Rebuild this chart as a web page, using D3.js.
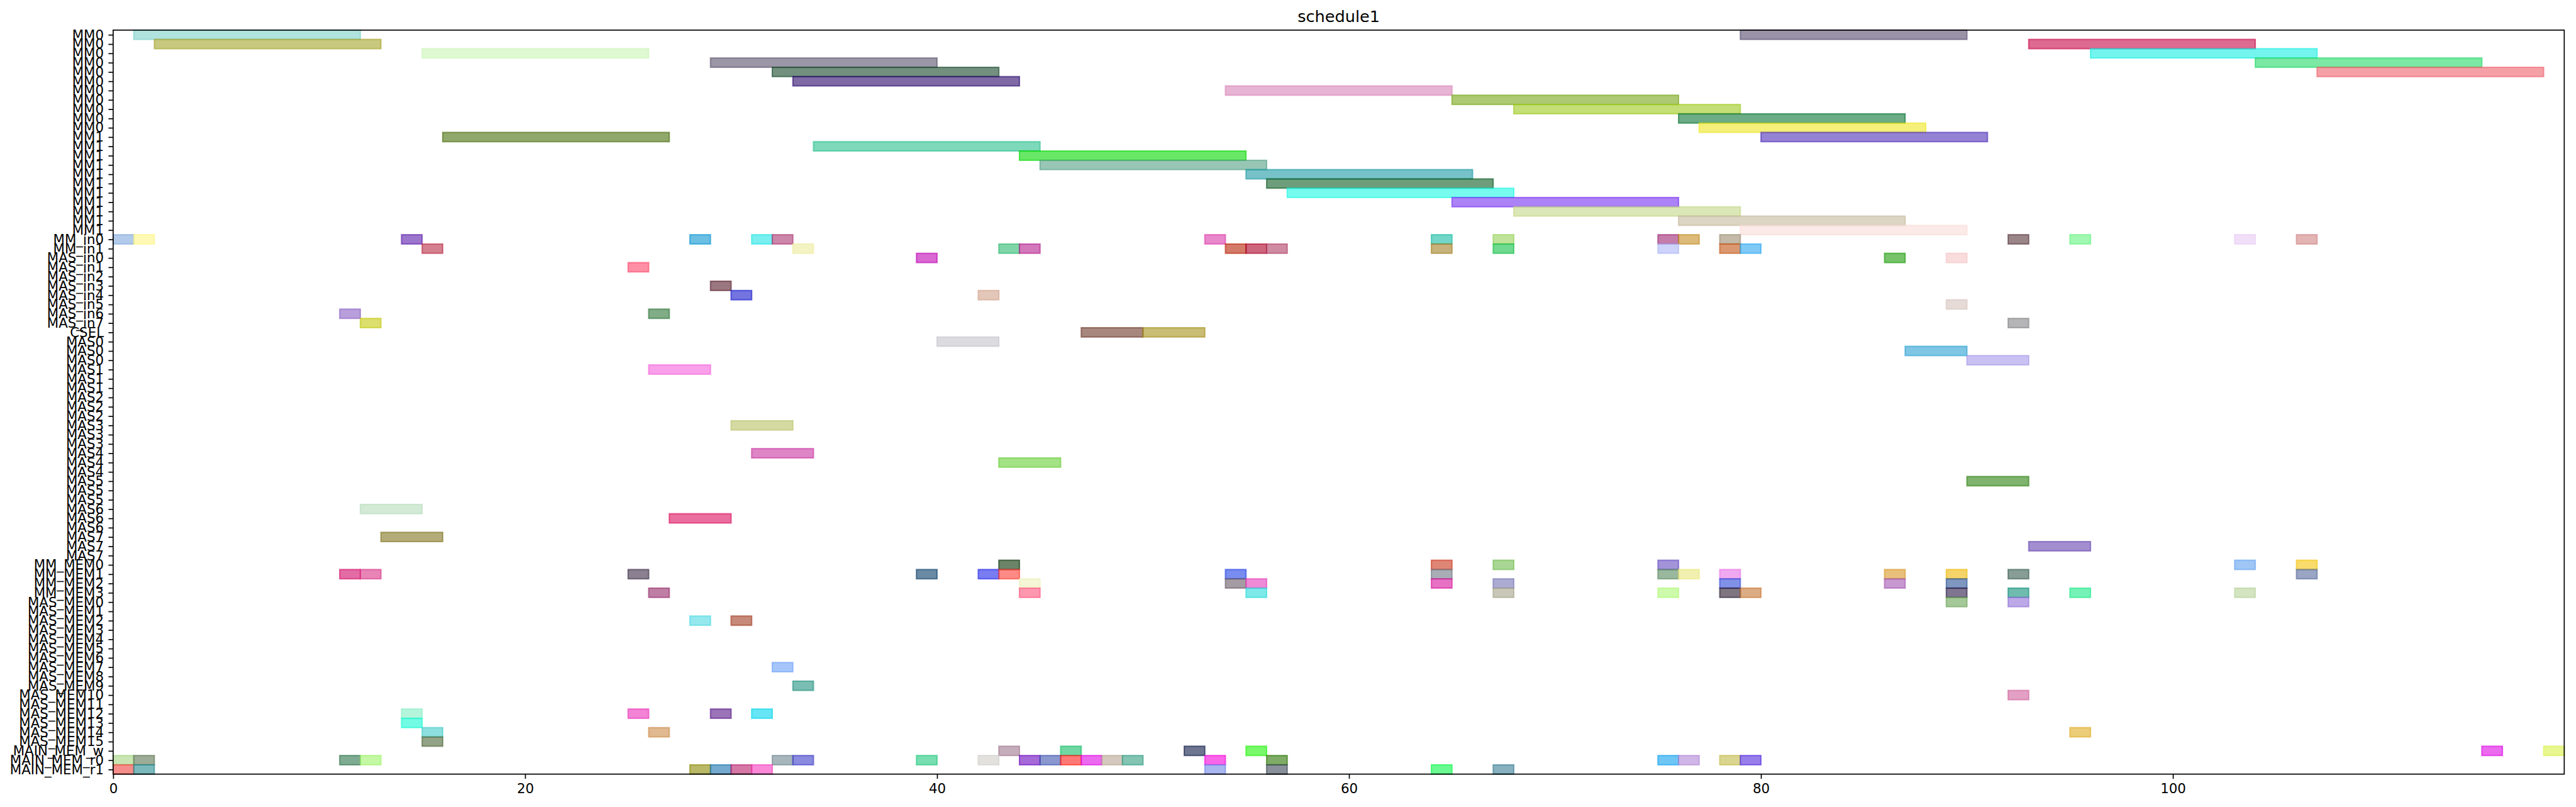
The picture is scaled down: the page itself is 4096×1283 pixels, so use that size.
<!DOCTYPE html>
<html><head><meta charset="utf-8">
<script src="https://cdn.jsdelivr.net/npm/d3@7"></script>
<style>body{margin:0;background:#fff;overflow:hidden} text{font-family:"DejaVu Sans",sans-serif}</style>
</head><body>
<script>
(function(){
// ---------- data ----------
const chartTitle = "schedule1";
const rowLabels = [].concat(
  Array(11).fill("MM0"), Array(11).fill("MM1"),
  ["MM_in0","MM_in1"],
  d3.range(8).map(i => "MAS_in" + i),
  ["CSEL"],
  ...d3.range(8).map(i => Array(3).fill("MAS" + i)),
  d3.range(4).map(i => "MM_MEM" + i),
  d3.range(16).map(i => "MAS_MEM" + i),
  ["MAIN_MEM_w","MAIN_MEM_r0","MAIN_MEM_r1"]
);
const xTicks = [0, 20, 40, 60, 80, 100];
const xDomain = [0, 119];

// [row index, start, end]
const tasks = [
  [0,1,12],[0,79,90],[1,2,13],[1,93,104],[2,15,26],[2,96,107],[3,29,40],[3,104,115],
  [4,32,43],[4,107,118],[5,33,44],[6,54,65],[7,65,76],[8,68,79],[9,76,87],[10,77,88],
  [11,16,27],[11,80,91],[12,34,45],[13,44,55],[14,45,56],[15,55,66],[16,56,67],[17,57,68],
  [18,65,76],[19,68,79],[20,76,87],[21,79,90],
  // MM_in0
  [22,0,1],[22,1,2],[22,14,15],[22,28,29],[22,31,32],[22,32,33],[22,53,54],[22,64,65],
  [22,67,68],[22,75,76],[22,76,77],[22,78,79],[22,92,93],[22,95,96],[22,103,104],[22,106,107],
  // MM_in1
  [23,15,16],[23,33,34],[23,43,44],[23,44,45],[23,54,55],[23,55,56],[23,56,57],[23,64,65],
  [23,67,68],[23,75,76],[23,78,79],[23,79,80],
  // MAS_in
  [24,39,40],[24,86,87],[24,89,90],[25,25,26],[27,29,30],[28,30,31],[28,42,43],[29,89,90],
  [30,11,12],[30,26,27],[31,12,13],[31,92,93],
  // CSEL, MASx
  [32,47,50],[32,50,53],[33,40,43],[34,87,90],[35,90,93],[36,26,29],[42,30,33],[45,31,34],
  [46,43,46],[48,90,93],[51,12,15],[52,27,30],[54,13,16],[55,93,96],
  // MM_MEM0
  [57,43,44],[57,64,65],[57,67,68],[57,75,76],[57,103,104],[57,106,107],
  // MM_MEM1
  [58,11,12],[58,12,13],[58,25,26],[58,39,40],[58,42,43],[58,43,44],[58,54,55],[58,64,65],
  [58,75,76],[58,76,77],[58,78,79],[58,86,87],[58,89,90],[58,92,93],[58,106,107],
  // MM_MEM2
  [59,44,45],[59,54,55],[59,55,56],[59,64,65],[59,67,68],[59,78,79],[59,86,87],[59,89,90],
  // MM_MEM3
  [60,26,27],[60,44,45],[60,55,56],[60,67,68],[60,75,76],[60,78,79],[60,79,80],[60,89,90],
  [60,92,93],[60,95,96],[60,103,104],
  // MAS_MEM
  [61,89,90],[61,92,93],[63,28,29],[63,30,31],[68,32,33],[70,33,34],[71,92,93],
  [73,14,15],[73,25,26],[73,29,30],[73,31,32],[74,14,15],[75,15,16],[75,26,27],[75,95,96],
  [76,15,16],
  // MAIN_MEM_w
  [77,43,44],[77,46,47],[77,52,53],[77,55,56],[77,115,116],[77,118,119],
  // MAIN_MEM_r0
  [78,0,1],[78,1,2],[78,11,12],[78,12,13],[78,32,33],[78,33,34],[78,39,40],[78,42,43],
  [78,44,45],[78,45,46],[78,46,47],[78,47,48],[78,48,49],[78,49,50],[78,53,54],[78,56,57],
  [78,75,76],[78,76,77],[78,78,79],[78,79,80],
  // MAIN_MEM_r1
  [79,0,1],[79,1,2],[79,28,29],[79,29,30],[79,30,31],[79,31,32],[79,53,54],[79,56,57],
  [79,64,65],[79,67,68]
];

// colour of each task as it appears on white (before alpha)
const taskColors = [
  "#b0e2de","#9a93a8","#c9c87f","#dd6a90","#dff9d3","#73f5ee","#9c97a6","#7be8a3",
  "#73907f","#f4a0a6","#7f6aa6","#e8b4d4","#adc973","#c4df76","#6bab85","#f4f07a",
  "#91a86d","#9482d4","#7dd9b9","#68e864","#98c6b5","#77c2c8","#6e9d7b","#76fbee",
  "#ac82f7","#dbe7b6","#ddd5c4","#fbeae7",
  "#b3cbea","#fef9b5","#9c76cc","#6abfe3","#79eff0","#cc86a9","#ea88cc","#72d6c8",
  "#c0e39a","#c47caa","#dcba7a","#c3baa9","#9a8589","#a1f8b2","#f1dff9","#e3b4b4",
  "#d4808f","#f4f3c3","#80d5a8","#d278bb","#d47a69","#cc637c","#cf8ba1","#c7b27b",
  "#6fd98f","#cdd3fa","#db9870","#7fc9f6",
  "#d968d3","#76c36a","#f9dcdc","#fe8fa5","#9a7780","#7374e0","#e3c7b9","#e6dbd7",
  "#b89fdc","#80ac86","#dcde6e","#b5b5b7",
  "#a8877e","#c9bc75","#dcdbe0","#7fc6e4","#c8c1f2","#f9a0ea","#d5daa3","#de85c6",
  "#a4e286","#80b36f","#d3ead6","#ea6f9e","#b3ac79","#a38fd0",
  "#6b8469","#df8677","#a9d695","#a393d9","#a0c6f6","#f9dc6c",
  "#e46ca4","#e884b6","#8a8090","#6b8ba5","#7a7cf2","#fd8a85","#798df0","#a9adb5",
  "#9ab89e","#f2f0b0","#f0a9f0","#e8c07c","#f4d46a","#879d95","#99a5c3",
  "#f4f6d6","#a59ca3","#ef8ad6","#e772c3","#acacd3","#8291e8","#c898d0","#7e97c0",
  "#bf7fa4","#fe97b0","#7de9e9","#c9c7b8","#cdfbab","#7e7581","#dcac84","#7f7590",
  "#6fbcaf","#76f2b8","#d3e4c1",
  "#a5c898","#bda9e8","#94e8ee","#c78a7a","#a6c6fb","#7abdb2","#e3a0c4",
  "#b5f5dc","#f383d4","#9b74b8","#67e5f5","#72fbe4","#8ee0df","#e0b990","#ebcd7a",
  "#93a387",
  "#c5adbb","#71d7a3","#6d7590","#79f86a","#eb6aee","#e9f791",
  "#c8e5b2","#9dac96","#80ab93","#c4f8a4","#a7b6bb","#8a8ade","#78deb1","#e2e1de",
  "#a66ad8","#8a98cf","#fe7975","#ec6aef","#d5c8be","#83c4b3","#f963e9","#7eac63",
  "#6fc6f4","#cfb6e6","#dad690","#977eeb",
  "#f58e8a","#7bb8bc","#b8b866","#74aacf","#d578a6","#fa8ad8","#a9b6f0","#8a9099",
  "#6afa91","#87b1bf"
];

// ---------- drawing ----------
const W = 4096, H = 1283, S = 0.768;
const ALPHA = 0.6;
const pLeft = 234.3 * S, pRight = 5309 * S, pTop = 62.3 * S, pBottom = 1602.5 * S;
const fontPx = 27.8 * S, titlePx = 33.3 * S;
const tickLen = 9.7 * S, lw = 2.2 * S;

const svg = d3.select("body").append("svg").attr("width", W).attr("height", H);
svg.append("rect").attr("width", W).attr("height", H).attr("fill", "#fff");

const x = d3.scaleLinear().domain(xDomain).range([pLeft, pRight]);
const y = d3.scaleLinear().domain([-0.5, rowLabels.length - 0.5]).range([pTop, pBottom]);

function baseColor(hex) {
  const c = d3.rgb(hex);
  const f = v => Math.max(0, Math.min(255, (v - 255 * (1 - ALPHA)) / ALPHA));
  return d3.rgb(f(c.r), f(c.g), f(c.b)).formatHex();
}

const g = svg.append("g");
g.selectAll("rect.bar").data(tasks).join("rect")
  .attr("class", "bar")
  .attr("x", d => x(d[1]))
  .attr("width", d => x(d[2]) - x(d[1]))
  .attr("y", d => y(d[0] - 0.5))
  .attr("height", d => y(d[0] + 0.5) - y(d[0] - 0.5))
  .attr("fill", (d, i) => baseColor(taskColors[i]))
  .attr("fill-opacity", ALPHA)
  .attr("stroke", (d, i) => baseColor(taskColors[i]))
  .attr("stroke-opacity", ALPHA)
  .attr("stroke-width", 2.1);

// axes
const yAxis = d3.axisLeft(y).tickValues(d3.range(rowLabels.length))
  .tickFormat(i => rowLabels[i]).tickSize(tickLen).tickPadding(tickLen);
const ya = svg.append("g").attr("transform", `translate(${pLeft},0)`).call(yAxis);
ya.select(".domain").remove();
ya.selectAll("line").attr("stroke", "#000").attr("stroke-width", lw);
ya.selectAll("text").attr("font-size", fontPx).attr("fill", "#000")
  .attr("font-family", "DejaVu Sans");

const xAxis = d3.axisBottom(x).tickValues(xTicks).tickFormat(d3.format("d"))
  .tickSize(tickLen).tickPadding(tickLen);
const xa = svg.append("g").attr("transform", `translate(0,${pBottom})`).call(xAxis);
xa.select(".domain").remove();
xa.selectAll("line").attr("stroke", "#000").attr("stroke-width", lw);
xa.selectAll("text").attr("font-size", fontPx).attr("fill", "#000")
  .attr("font-family", "DejaVu Sans");

// frame
svg.append("rect").attr("x", pLeft).attr("y", pTop)
  .attr("width", pRight - pLeft).attr("height", pBottom - pTop)
  .attr("fill", "none").attr("stroke", "#000").attr("stroke-width", lw);

// title
svg.append("text").attr("x", (pLeft + pRight) / 2).attr("y", pTop - 16.7 * S)
  .attr("text-anchor", "middle").attr("font-size", titlePx)
  .attr("font-family", "DejaVu Sans").attr("fill", "#000").text(chartTitle);
})();
</script>
</body></html>
